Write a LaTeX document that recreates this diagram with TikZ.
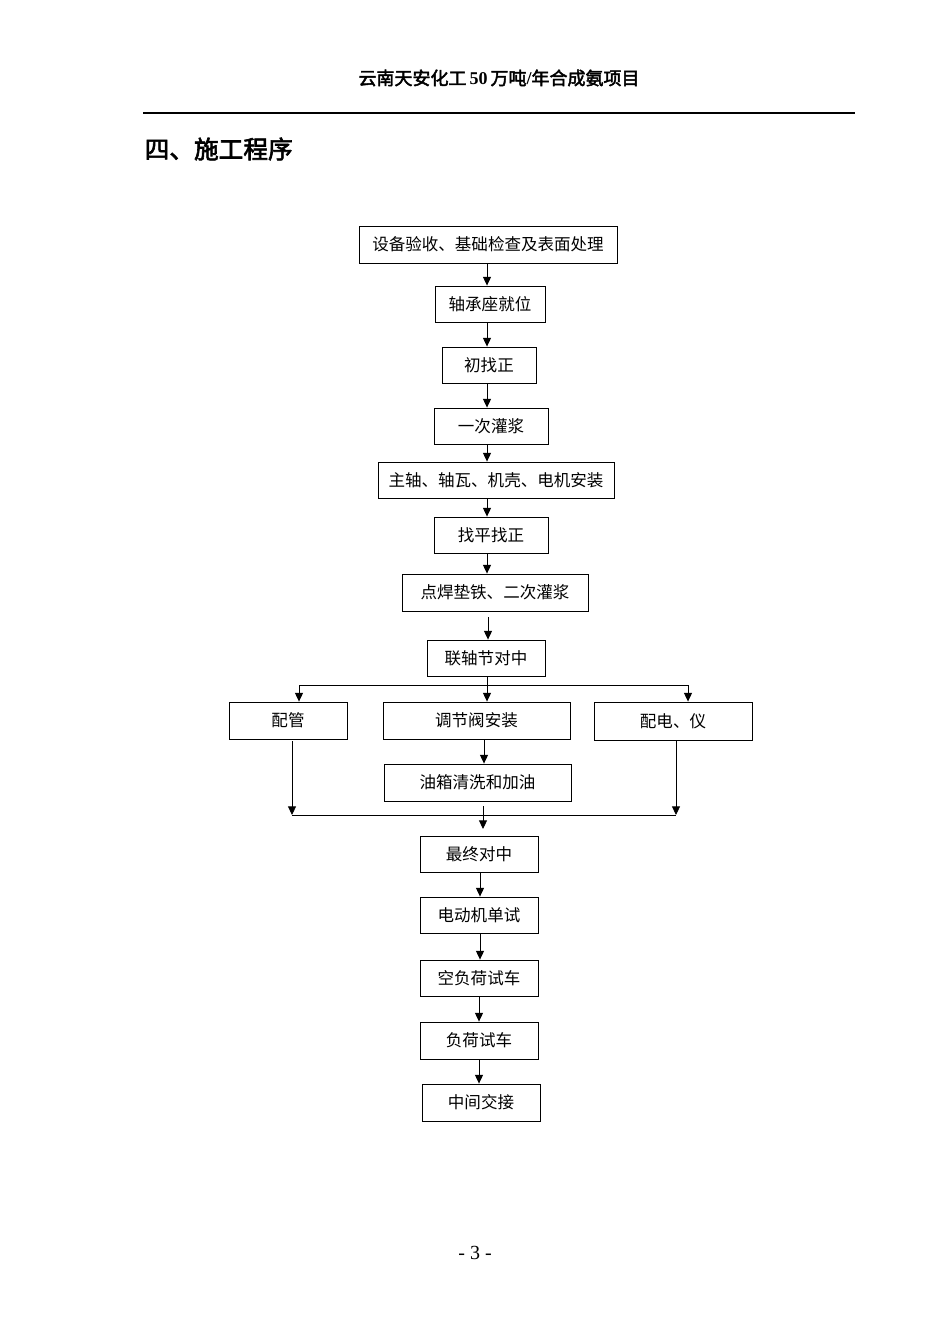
\documentclass[tikz,border=0pt]{standalone}
\usepackage{fontspec}
\setmainfont{Liberation Serif}
\newfontfamily\cjk{Noto Sans CJK SC}
\newfontfamily\cjkb{Noto Sans CJK SC}[FakeBold=2.5]
\usetikzlibrary{arrows.meta}
\begin{document}
\begin{tikzpicture}[x=0.75pt,y=-0.75pt,
  box/.style={draw,line width=0.65pt,inner sep=0pt,font=\cjk\fontsize{12.4}{14}\selectfont},
  arr/.style={line width=0.65pt,-{Triangle[length=6.5pt,width=6pt]}},
  ln/.style={line width=0.65pt}]
\useasboundingbox (0,0) rectangle (950,1344);
\fill[white] (0,0) rectangle (950,1344);
% header
\node[font=\cjkb\fontsize{13.5}{15}\selectfont] (hdr) at (499,78) {云南天安化工\,{\rmfamily\bfseries 50}\,万吨{\rmfamily\bfseries /}年合成氨项目};
\coordinate (hl) at (143,113);
\coordinate (hr) at (855,113);
\draw[line width=0.9pt] (hl) -- (hr);
\node[font=\cjkb\fontsize{18.5}{20}\selectfont,anchor=west] (title) at (140,149) {四、施工程序};
% boxes
\node[box,minimum width=193.5pt,minimum height=27.75pt] (n1) at (488,244.5) {设备验收、基础检查及表面处理};
\node[box,minimum width=82.5pt,minimum height=27pt] (n2) at (490,304) {轴承座就位};
\node[box,minimum width=70.5pt,minimum height=27pt] (n3) at (489,365) {初找正};
\node[box,minimum width=85.5pt,minimum height=27pt] (n4) at (491,426) {一次灌浆};
\node[box,minimum width=177pt,minimum height=27pt] (n5) at (496,480) {主轴、轴瓦、机壳、电机安装};
\node[box,minimum width=85.5pt,minimum height=27pt] (n6) at (491,535) {找平找正};
\node[box,minimum width=139.5pt,minimum height=27.75pt] (n7) at (495,592.5) {点焊垫铁、二次灌浆};
\node[box,minimum width=88.5pt,minimum height=27pt] (n8) at (486,658) {联轴节对中};
\node[box,minimum width=88.5pt,minimum height=27.75pt] (n9) at (288,720.5) {配管};
\node[box,minimum width=140.25pt,minimum height=27.75pt] (n10) at (476.5,720.5) {调节阀安装};
\node[box,minimum width=118.5pt,minimum height=28.5pt] (n11) at (673,721) {配电、仪};
\node[box,minimum width=140.25pt,minimum height=27.75pt] (n12) at (477.5,782.5) {油箱清洗和加油};
\node[box,minimum width=88.5pt,minimum height=27pt] (n13) at (479,854) {最终对中};
\node[box,minimum width=88.5pt,minimum height=27pt] (n14) at (479,915) {电动机单试};
\node[box,minimum width=88.5pt,minimum height=27pt] (n15) at (479,978) {空负荷试车};
\node[box,minimum width=88.5pt,minimum height=27.75pt] (n16) at (479,1040.5) {负荷试车};
\node[box,minimum width=88.5pt,minimum height=27.75pt] (n17) at (481,1102.5) {中间交接};
% page number
\node[font=\fontsize{15}{17}\selectfont] (pg) at (475,1253) {- 3 -};
% spine arrows
\coordinate (sp) at (487,0);
\draw[arr] (sp |- n1.south) -- (sp |- n2.north);
\draw[arr] (sp |- n2.south) -- (sp |- n3.north);
\draw[arr] (sp |- n3.south) -- (sp |- n4.north);
\draw[arr] (sp |- n4.south) -- (sp |- n5.north);
\draw[arr] (sp |- n5.south) -- (sp |- n6.north);
\draw[arr] (sp |- n6.south) -- (sp |- n7.north);
\coordinate (sp2) at (488,0);
\draw[arr,shorten <=4.5pt] (sp2 |- n7.south) -- (sp2 |- n8.north);
% fork
\coordinate (fl) at (299,685);
\coordinate (fr) at (688,685);
\draw[ln] (fl) -- (fr);
\draw[arr] (sp |- n8.south) -- (sp |- n10.north);
\draw[arr] (fl) -- (fl |- n9.north);
\draw[arr] (fr) -- (fr |- n11.north);
% middle
\coordinate (mx) at (484,0);
\draw[arr] (mx |- n10.south) -- (mx |- n12.north);
% merge
\coordinate (ml) at (292,815);
\coordinate (mr) at (676,815);
\draw[ln] (ml) -- (mr);
\draw[arr] (ml |- n9.south) ++(0,2) -- (ml);
\draw[arr] (mr |- n11.south) -- (mr);
\coordinate (mc) at (483,829);
\draw[arr,shorten <=3.5pt] (mc |- n12.south) -- (mc);
% bottom arrows
\coordinate (bx) at (480,0);
\draw[arr] (bx |- n13.south) -- (bx |- n14.north);
\draw[arr] (bx |- n14.south) -- (bx |- n15.north);
\coordinate (bx2) at (479,0);
\draw[arr] (bx2 |- n15.south) -- (bx2 |- n16.north);
\draw[arr] (bx2 |- n16.south) -- (bx2 |- n17.north);
\end{tikzpicture}
\end{document}
